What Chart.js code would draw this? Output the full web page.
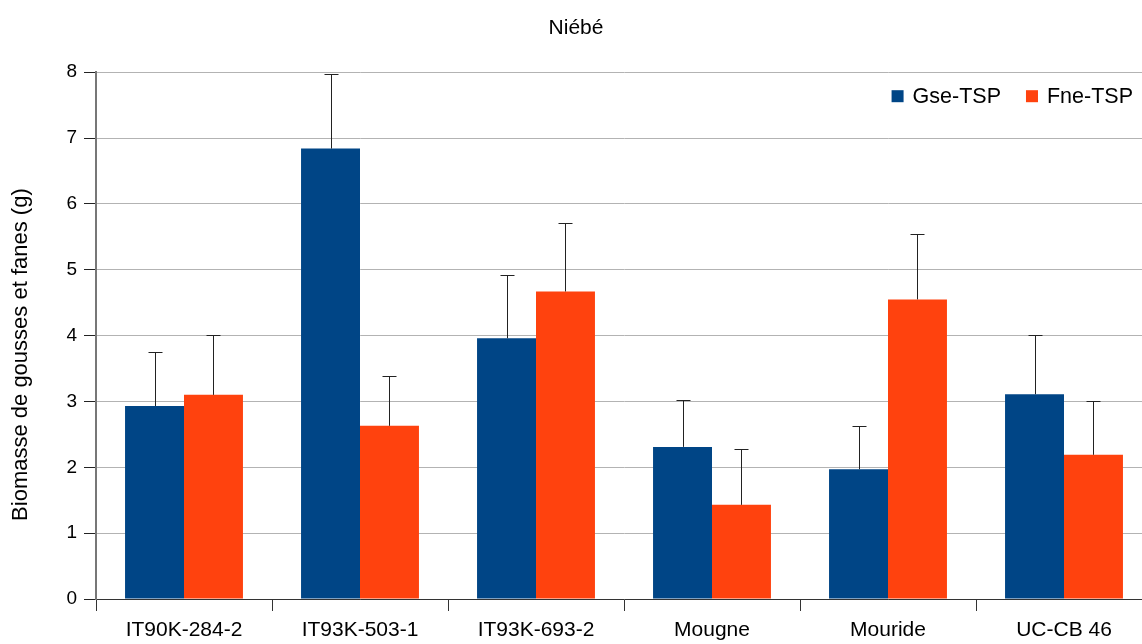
<!DOCTYPE html>
<html>
<head>
<meta charset="utf-8">
<title>Niébé</title>
<script src="https://cdn.jsdelivr.net/npm/chart.js@4.4.1/dist/chart.umd.min.js"></script>
<style>
  html, body { margin: 0; padding: 0; overflow: hidden; background: #fff; }
  #wrap { width: 1160px; height: 644px; }
</style>
</head>
<body>
<div id="wrap"><canvas id="chart"></canvas></div>
<script>
// data
const varieties = ["IT90K-284-2", "IT93K-503-1", "IT93K-693-2", "Mougne", "Mouride", "UC-CB 46"];
const gseTsp = [2.93, 6.84, 3.96, 2.31, 1.97, 3.11];
const gseErr = [0.82, 1.13, 0.96, 0.71, 0.66, 0.90];
const fneTsp = [3.10, 2.63, 4.67, 1.43, 4.55, 2.19];
const fneErr = [0.91, 0.75, 1.04, 0.85, 1.00, 0.81];
const yTicks = [0, 1, 2, 3, 4, 5, 6, 7, 8];
const yTitle = "Biomasse de gousses et fanes (g)";

const FONT = "'Liberation Sans', Arial, sans-serif";

// upper error bars, drawn through the scales
const errorBars = {
  id: "errorBars",
  afterDatasetsDraw(chart) {
    const ctx = chart.ctx;
    const y = chart.scales.y;
    ctx.save();
    ctx.strokeStyle = "#222";
    ctx.lineWidth = 1;
    chart.data.datasets.forEach((ds, i) => {
      const meta = chart.getDatasetMeta(i);
      meta.data.forEach((bar, j) => {
        const top = y.getPixelForValue(ds.data[j] + ds.errors[j]);
        const x = Math.round(bar.x) + 0.5;
        ctx.beginPath();
        ctx.moveTo(x, bar.y);
        ctx.lineTo(x, Math.round(top) + 0.5);
        ctx.moveTo(x - 7, Math.round(top) + 0.5);
        ctx.lineTo(x + 7, Math.round(top) + 0.5);
        ctx.stroke();
      });
    });
    ctx.restore();
  }
};

// legend inside the plot (top right) and the y axis title
const extras = {
  id: "extras",
  afterDraw(chart) {
    const ctx = chart.ctx;
    const area = chart.chartArea;
    ctx.save();
    ctx.font = "21.5px " + FONT;
    ctx.textBaseline = "middle";
    const cy = area.top + 24;
    let x = area.right - 19;
    const items = chart.data.datasets.slice().reverse();
    items.forEach((ds) => {
      const w = ctx.measureText(ds.label).width;
      ctx.fillStyle = "#000";
      ctx.fillText(ds.label, x - w, cy + 1);
      x -= w + 9;
      ctx.fillStyle = ds.backgroundColor;
      ctx.fillRect(x - 12, cy - 6, 12, 12);
      x -= 12 + 25;
    });
    ctx.restore();

    ctx.save();
    ctx.font = "22px " + FONT;
    ctx.fillStyle = "#000";
    ctx.textAlign = "center";
    ctx.textBaseline = "middle";
    ctx.translate(21, (area.top + area.bottom) / 2 + 19);
    ctx.rotate(-Math.PI / 2);
    ctx.fillText(yTitle, 0, 0);
    ctx.restore();
  }
};

new Chart(document.getElementById("chart"), {
  type: "bar",
  data: {
    labels: varieties,
    datasets: [
      { label: "Gse-TSP", data: gseTsp, errors: gseErr, backgroundColor: "#004586" },
      { label: "Fne-TSP", data: fneTsp, errors: fneErr, backgroundColor: "#ff420e" }
    ]
  },
  options: {
    responsive: true,
    maintainAspectRatio: false,
    animation: false,
    layout: { padding: { left: 0, right: 8, top: 0, bottom: 0 } },
    datasets: { bar: { categoryPercentage: 0.67, barPercentage: 1.0 } },
    plugins: {
      legend: { display: false },
      tooltip: { enabled: false },
      title: {
        display: true,
        text: "Niébé",
        color: "#000",
        font: { family: FONT, size: 21, weight: "normal" },
        padding: { top: 16, bottom: 31 }
      }
    },
    scales: {
      x: {
        grid: { drawOnChartArea: false, drawTicks: true, tickLength: 12, tickColor: "#333", offset: true },
        border: { color: "#333", width: 1 },
        ticks: { color: "#000", font: { family: FONT, size: 21 }, padding: 7, maxRotation: 0 },
        afterFit(scale) { scale.height = 45; }
      },
      y: {
        min: 0,
        max: 8,
        afterBuildTicks(scale) { scale.ticks = yTicks.map(v => ({ value: v })); },
        grid: { color: "#b3b3b3", tickLength: 12, tickColor: "#222" },
        border: { color: "#777", width: 2 },
        ticks: { color: "#000", font: { family: FONT, size: 19 }, padding: 7 },
        afterFit(scale) { scale.width = 96; }
      }
    }
  },
  plugins: [errorBars, extras]
});
</script>
</body>
</html>
